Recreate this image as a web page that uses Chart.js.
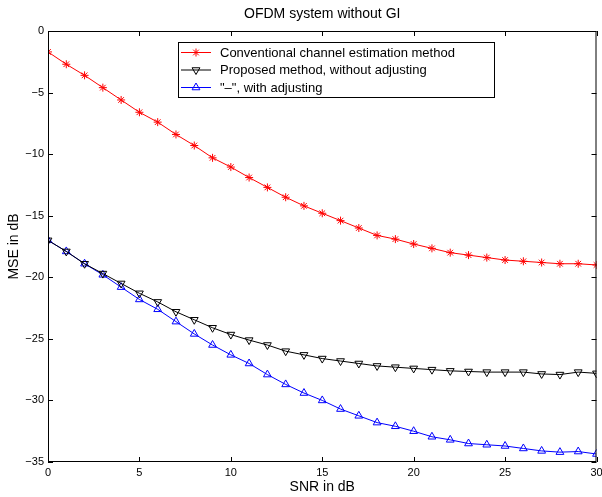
<!DOCTYPE html>
<html>
<head>
<meta charset="utf-8">
<script src="https://cdn.jsdelivr.net/npm/chart.js@4/dist/chart.umd.min.js"></script>
<style>
  html, body { margin: 0; padding: 0; background: #fff; }
  canvas { display: block; }
</style>
</head>
<body>
<canvas id="mse" width="602" height="497"></canvas>
<script>
const snr = [0, 1, 2, 3, 4, 5, 6, 7, 8, 9, 10, 11, 12, 13, 14, 15, 16, 17, 18, 19, 20,
  21, 22, 23, 24, 25, 26, 27, 28, 29, 30];
const conventional = [-1.7, -2.7, -3.6, -4.6, -5.6, -6.6, -7.4, -8.4, -9.3, -10.3, -11.05,
  -11.9, -12.7, -13.5, -14.2, -14.8, -15.4, -16.0, -16.6, -16.9, -17.3,
  -17.65, -18.0, -18.2, -18.4, -18.6, -18.7, -18.8, -18.9, -18.9, -19.0];
const noAdjust = [-17.0, -17.9, -18.9, -19.7, -20.5, -21.3, -22.0, -22.8, -23.45, -24.1, -24.65,
  -25.1, -25.5, -26.0, -26.3, -26.6, -26.8, -27.0, -27.2, -27.3, -27.4,
  -27.5, -27.6, -27.65, -27.7, -27.7, -27.7, -27.85, -27.9, -27.7, -27.8];
const withAdjust = [-17.0, -17.9, -18.9, -19.8, -20.8, -21.8, -22.6, -23.6, -24.6, -25.5, -26.3,
  -27.0, -27.9, -28.7, -29.4, -30.0, -30.7, -31.25, -31.8, -32.1, -32.5,
  -32.95, -33.2, -33.5, -33.6, -33.7, -33.9, -34.1, -34.2, -34.15, -34.35];
const seriesNames = ['Conventional channel estimation method', 'Proposed method, without adjusting', '"\u2013", with adjusting'];
const xTicks = [0, 5, 10, 15, 20, 25, 30];
const yTicks = [0, -5, -10, -15, -20, -25, -30, -35];

const font = 'Liberation Sans, Arial, Helvetica, sans-serif';
const pts = (ys) => ys.map((v, i) => ({ x: snr[i], y: v }));
const minus = (v) => (v < 0 ? '\u2212' + Math.abs(v) : String(v));

const styles = [
  { color: '#ff0000', pointStyle: 'star', rotation: 0, radius: 4 },
  { color: '#000000', pointStyle: 'triangle', rotation: 180, radius: 4.5 },
  { color: '#0000ff', pointStyle: 'triangle', rotation: 0, radius: 4.5 },
];

// box, inside ticks and legend, matlab style
const frame = {
  id: 'frame',
  afterDraw(chart) {
    const { ctx, chartArea: a, scales: { x, y } } = chart;
    ctx.save();
    ctx.strokeStyle = '#000';
    ctx.lineWidth = 1;
    ctx.strokeRect(a.left + 0.5, a.top + 0.5, a.right - a.left - 1, a.bottom - a.top - 1);
    ctx.beginPath();
    xTicks.forEach((t) => {
      const px = Math.round(x.getPixelForValue(t)) + 0.5;
      ctx.moveTo(px, a.bottom); ctx.lineTo(px, a.bottom - 5);
      ctx.moveTo(px, a.top); ctx.lineTo(px, a.top + 5);
    });
    yTicks.forEach((t) => {
      const py = Math.round(y.getPixelForValue(t)) + 0.5;
      ctx.moveTo(a.left, py); ctx.lineTo(a.left + 5, py);
      ctx.moveTo(a.right, py); ctx.lineTo(a.right - 5, py);
    });
    ctx.stroke();

    // legend
    const lx = 178, ly = 42, lw = 316, lh = 55;
    ctx.fillStyle = '#fff';
    ctx.fillRect(lx, ly, lw, lh);
    ctx.strokeRect(lx + 0.5, ly + 0.5, lw, lh);
    ctx.font = '13px ' + font;
    ctx.textBaseline = 'middle';
    ctx.textAlign = 'left';
    seriesNames.forEach((name, i) => {
      const s = styles[i];
      const cy = ly + 10 + i * 17.5;
      ctx.strokeStyle = s.color;
      ctx.beginPath();
      ctx.moveTo(lx + 3, cy + 0.5); ctx.lineTo(lx + 33, cy + 0.5);
      ctx.stroke();
      ctx.fillStyle = 'rgba(0,0,0,0)';
      Chart.helpers.drawPoint(ctx, {
        pointStyle: s.pointStyle, rotation: s.rotation, radius: s.radius, borderWidth: 1,
      }, lx + 18, cy + 0.5);
      ctx.fillStyle = '#000';
      ctx.fillText(name, lx + 42, cy + 1);
    });
    ctx.restore();
  },
};

new Chart(document.getElementById('mse'), {
  type: 'line',
  data: {
    datasets: [conventional, noAdjust, withAdjust].map((ys, i) => ({
      label: seriesNames[i],
      data: pts(ys),
      borderColor: styles[i].color,
      backgroundColor: 'rgba(0,0,0,0)',
      borderWidth: 1,
      pointStyle: styles[i].pointStyle,
      pointRotation: styles[i].rotation,
      pointRadius: styles[i].radius,
      pointBorderWidth: 1,
      pointBorderColor: styles[i].color,
      pointBackgroundColor: 'rgba(0,0,0,0)',
      tension: 0,
    })),
  },
  options: {
    responsive: false,
    devicePixelRatio: 1,
    animation: false,
    events: [],
    layout: { padding: { left: 0, right: 4, top: 0, bottom: 0 } },
    plugins: {
      legend: { display: false },
      tooltip: { enabled: false },
      title: {
        display: true,
        text: 'OFDM system without GI',
        color: '#000',
        fullSize: false,
        font: { family: font, size: 14, weight: 'normal' },
        padding: { top: 6, bottom: 8.2 },
      },
    },
    scales: {
      x: {
        type: 'linear',
        min: 0,
        max: 30,
        afterBuildTicks: (s) => { s.ticks = xTicks.map((v) => ({ value: v })); },
        afterFit: (s) => { s.height = 35; s.paddingLeft = 0; s.paddingRight = 0; },
        grid: { display: false, drawTicks: false },
        border: { display: false },
        ticks: {
          color: '#000', padding: 4, maxRotation: 0, autoSkip: false,
          font: { family: font, size: 11 }, callback: minus,
        },
        title: {
          display: true, text: 'SNR in dB', color: '#000',
          font: { family: font, size: 14 }, padding: { top: 0, bottom: 1 },
        },
      },
      y: {
        min: -35,
        max: 0,
        afterBuildTicks: (s) => { s.ticks = yTicks.map((v) => ({ value: v })); },
        afterFit: (s) => { s.width = 48; s.paddingTop = 0; s.paddingBottom = 0; },
        grid: { display: false, drawTicks: false },
        border: { display: false },
        ticks: {
          color: '#000', padding: 4, autoSkip: false,
          font: { family: font, size: 11 }, callback: minus,
        },
        title: {
          display: true, text: 'MSE in dB', color: '#000',
          font: { family: font, size: 14 }, padding: { top: 6, bottom: 0 },
        },
      },
    },
  },
  plugins: [frame],
});
</script>
</body>
</html>
